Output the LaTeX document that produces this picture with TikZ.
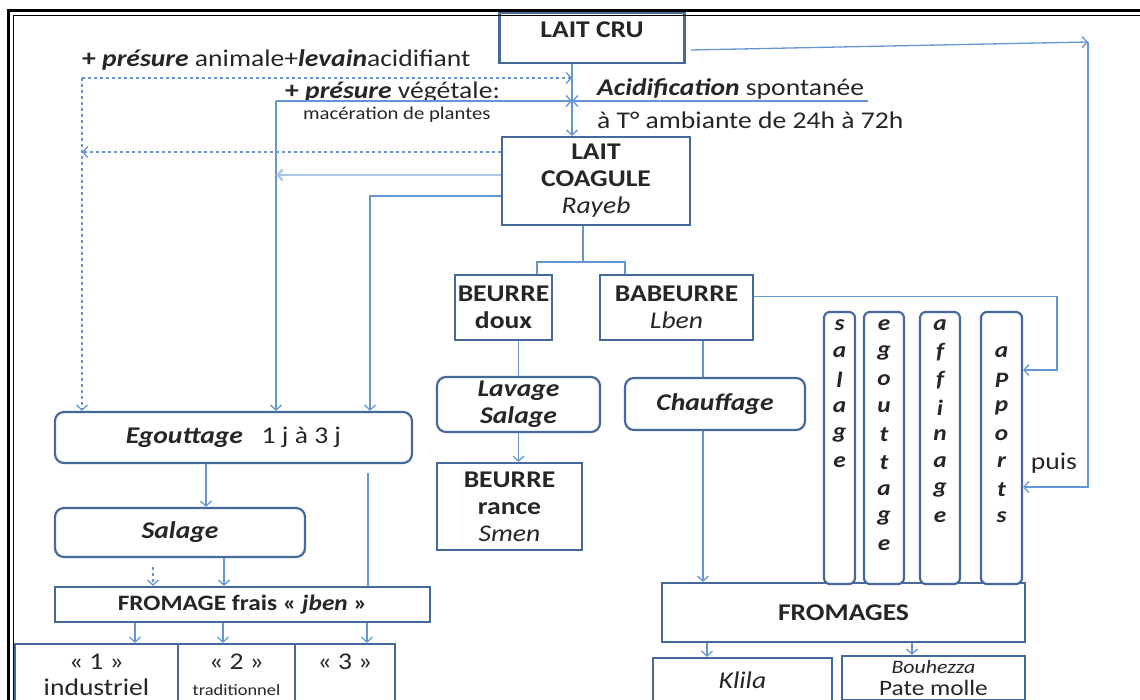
\documentclass[tikz,border=0pt]{standalone}
\usepackage{fontspec}
\setmainfont{Carlito}[FakeStretch=1.15]
\usetikzlibrary{arrows.meta}
\definecolor{boxblue}{RGB}{68,105,155}
\definecolor{linkblue}{RGB}{102,150,210}
\tikzset{
  box/.style={draw=boxblue,line width=2.2pt,fill=white,inner sep=0pt,align=center,
    text=black!85,font=\fontsize{24}{27}\selectfont\bfseries},
  rbox/.style={box,rounded corners=9pt},
  link/.style={draw=linkblue,line width=1.3pt},
  arr/.style={link,-{Straight Barb[length=5pt,width=11pt]}},
  note/.style={inner sep=0pt,text=black!85,font=\fontsize{24}{27}\selectfont},
  letter/.style={inner sep=0pt,text=black!85,font=\fontsize{22}{24}\selectfont\bfseries\itshape},
}
\begin{document}
\begin{tikzpicture}[x=1pt,y=-1pt]
\clip (0,0) rectangle (1140,700);

% central chain
\node[box,minimum width=185,minimum height=50,text depth=16pt] (lait) at (592,38) {LAIT CRU};
\node[box,minimum width=188,minimum height=88] (coag) at (596,181) {LAIT\\COAGULE\\\mdseries\itshape Rayeb};
\coordinate (mid) at (572,101);
\draw[arr] (lait.south -| mid) -- (coag.north -| mid);

% frame
\draw[line width=2.4pt] (1145,10.5) -- (8.5,10.5) -- (8.5,705);
\draw[line width=0.9pt] (1145,15.5) -- (13.5,15.5) -- (13.5,705);

% additions
\node[note,anchor=west] (anim) at (82,60) {\textbf{+ \textit{présure}} animale+\textbf{\textit{levain}}acidifiant};
\node[note,anchor=west] (veg) at (285,92) {\textbf{+ \textit{présure}} végétale:};
\node[note,anchor=west,font=\fontsize{18}{20}\selectfont] (mac) at (303,115) {macération de plantes};
\node[note,anchor=west] (acid) at (597,89) {\textbf{\textit{Acidification}} spontanée};
\node[note,anchor=west] (amb) at (597,120) {à T° ambiante de 24h à 72h};

% left branch
\node[rbox,minimum width=357,minimum height=51] (egout) at (233.5,437.5) {\itshape Egouttage\upshape\mdseries~~~1 j à 3 j};
\node[rbox,minimum width=250,minimum height=49] (salage) at (180,532.5) {\itshape Salage};
\node[box,minimum width=375,minimum height=35,font=\fontsize{22}{24}\selectfont\bfseries] (frais) at (242.5,604.5) {FROMAGE frais « \textit{jben} »};
\node[box,minimum width=163,minimum height=62,font=\fontsize{24}{26}\selectfont] (ind) at (96.5,675) {« 1 »\\industriel};
\node[box,minimum width=117,minimum height=62,font=\fontsize{24}{26}\selectfont] (trad) at (236.5,675) {« 2 »\\\fontsize{16}{18}\selectfont traditionnel};
\node[box,minimum width=100,minimum height=62,font=\fontsize{24}{26}\selectfont] (autre) at (345,675) {« 3 »\\\phantom{x}};

\coordinate (pa) at (82,78);
\coordinate (pv) at (276,101);
\coordinate (pr) at (868,101);
\coordinate (pw) at (370,300);
\draw[arr,dashed] (pa) -- (pa -| mid);
\draw[arr,dashed,dash pattern=on 3pt off 3pt] (pa) -- (pa |- egout.north);
\draw[arr] (pv) -- (mid);
\draw[arr] (pv) -- (pv |- egout.north);
\draw[arr] (pr) -- (mid);
\coordinate (c1) at ([yshift=29pt]coag.west);
\coordinate (c2) at ([yshift=6pt]coag.west);
\coordinate (c3) at ([yshift=-15pt]coag.west);
\draw[arr,dashed] (c1) -- (c1 -| pa);
\draw[arr,line width=2.4pt,draw=linkblue!55] (c2) -- (c2 -| pv);
\draw[arr] (c3) -| (pw |- egout.north);

\coordinate (xe) at (206,0);
\coordinate (xd) at (153,567);
\coordinate (xs) at (224,0);
\coordinate (xt) at (368,473);
\draw[arr] (egout.south -| xe) -- (salage.north -| xe);
\draw[arr,dashed,dash pattern=on 3pt off 3pt] (xd) -- (xd |- frais.north);
\draw[arr] (salage.south -| xs) -- (frais.north -| xs);
\draw[link] (xt) -- (xt |- frais.north);
\foreach \x/\n in {135/1,223/2,367/3} {
  \coordinate (f\n) at (\x,0);
  \draw[arr] (frais.south -| f\n) -- (ind.north -| f\n);
}

% butter branch
\node[box,minimum width=97,minimum height=65] (beurre) at (503.5,307.5) {BEURRE\\doux};
\node[box,minimum width=153,minimum height=65] (babeurre) at (676.5,307.5) {BABEURRE\\\mdseries\itshape Lben};
\node[rbox,minimum width=163,minimum height=55] (lavage) at (518.5,404.5) {\itshape Lavage\\\itshape Salage};
\node[box,minimum width=145,minimum height=87] (rance) at (509.5,506.5) {BEURRE\\rance\\\mdseries\itshape Smen};
\node[rbox,minimum width=180,minimum height=52] (chauff) at (715,404) {\itshape Chauffage};

\coordinate (bl) at (537,262);
\coordinate (br) at (625,262);
\coordinate (stem) at (583,0);
\draw[link] (coag.south -| stem) -- (bl -| stem);
\draw[link] (bl |- beurre.north) -- (bl) -- (br) -- (br |- babeurre.north);
\draw[link] (beurre.south -| lavage.north) -- (lavage.north);
\draw[arr] (lavage.south) -- (lavage.south |- rance.north);

% cheeses
\node[box,minimum width=363,minimum height=59] (fromages) at (843.5,612.5) {FROMAGES};
\node[box,minimum width=179,minimum height=44,font=\fontsize{24}{26}\selectfont\itshape] (klila) at (742.5,680) {Klila};
\node[box,minimum width=183,minimum height=44,font=\fontsize{22}{22}\selectfont] (bouhezza) at (933.5,678) {\fontsize{19}{20}\selectfont\itshape Bouhezza\\Pate molle};

\coordinate (xch) at (703,0);
\draw[link] (babeurre.south -| xch) -- (chauff.north -| xch);
\draw[arr] (chauff.south -| xch) -- (fromages.north -| xch);
\coordinate (xk) at (707,0);
\coordinate (xb) at (912,0);
\draw[arr] (fromages.south -| xk) -- (klila.north -| xk);
\draw[arr] (fromages.south -| xb) -- (bouhezza.north -| xb);

% treatments
\node[rbox,minimum width=31,minimum height=272,rounded corners=6pt] (vsal) at (839.5,448) {};
\node[rbox,minimum width=40,minimum height=272,rounded corners=6pt] (vegout) at (884,448) {};
\node[rbox,minimum width=40,minimum height=272,rounded corners=6pt] (vaff) at (940,448) {};
\node[rbox,minimum width=41,minimum height=272,rounded corners=6pt] (vapp) at (1001.5,448) {};
\foreach \l [count=\i] in {s,a,l,a,g,e}
  \node[letter] (ls\i) at (839.5,{297.5+27.5*\i}) {\l};
\foreach \l [count=\i] in {e,g,o,u,t,t,a,g,e}
  \node[letter] (le\i) at (884,{297.5+27.5*\i}) {\l};
\foreach \l [count=\i] in {a,f,f,i,n,a,g,e}
  \node[letter] (la\i) at (940,{297.5+27.5*\i}) {\l};
\foreach \l [count=\i] in {a,P,p,o,r,t,s}
  \node[letter] (lp\i) at (1001.5,{325+27.5*\i}) {\l};
\node[note] (puis) at (1054,463) {puis};

\coordinate (pb) at (1057,370);
\coordinate (pc) at (1088,42);
\coordinate (pd) at (1088,487);
\draw[arr] ([yshift=11pt]babeurre.east) -| (pb) -- (pb -| vapp.east);
\draw[arr] ([xshift=5pt,yshift=-12pt]lait.east) -- (pc);
\draw[arr] (pc) -- (pd) -- (pd -| vapp.east);
\end{tikzpicture}
\end{document}
